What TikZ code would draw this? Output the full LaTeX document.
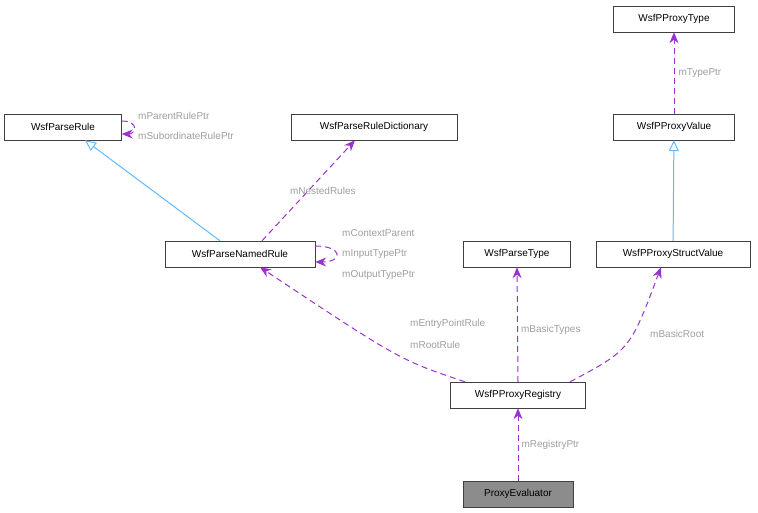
\documentclass[tikz,border=0pt]{standalone}
\usepackage{fontspec}
\setmainfont{Liberation Sans}
\usetikzlibrary{arrows.meta}
\definecolor{usecol}{HTML}{9A32CD}
\definecolor{inhcol}{HTML}{63B8FF}

\begin{document}
\begin{tikzpicture}[x=1pt, y=-1pt, font=\fontsize{10}{11}\selectfont,
    cls/.style={draw=black!75, fill=white, minimum height=26pt, inner xsep=4pt},
    use/.style={draw=usecol, dash pattern=on 6pt off 4pt, line width=1pt, -{Stealth[length=11pt,width=9pt,fill=usecol]}},
    inh/.style={draw=inhcol, line width=1pt, -{Triangle[open,length=11pt,width=10pt]}},
    lbl/.style={text=black!38, anchor=west, inner sep=1pt}]
    \useasboundingbox (0,0) rectangle (758,512);
    \node [cls, minimum width=121pt] (ptype) at (674,19) {WsfPProxyType};
    \node [cls, minimum width=121pt] (pvalue) at (674,127) {WsfPProxyValue};
    \node [cls, minimum width=117pt] (rule) at (63,127) {WsfParseRule};
    \node [cls, minimum width=166pt] (dict) at (374,127) {WsfParseRuleDictionary};
    \node [cls, minimum width=150pt] (named) at (240,254) {WsfParseNamedRule};
    \node [cls, minimum width=107pt] (ptyp) at (517,254) {WsfParseType};
    \node [cls, minimum width=154pt] (pstruct) at (673,254) {WsfPProxyStructValue};
    \node [cls, minimum width=135pt] (registry) at (518,395) {WsfPProxyRegistry};
    \node [cls, minimum width=110pt, fill=black!45] (evaluator) at (518,494) {ProxyEvaluator};
    % inheritance
	\draw [inh] ([xshift=-20pt]named.north) -- ([xshift=22pt]rule.south);
	\draw [inh] (pstruct) -- (pvalue);
    % members
	\draw [use] (pvalue) -- (ptype) node [lbl, pos=0.5, xshift=3pt] {mTypePtr};
	\draw [use] ([xshift=22pt]named.north) -- ([xshift=-19pt]dict.south) node [lbl, midway, xshift=-20pt] {mNestedRules};
	\draw [use] ([yshift=6pt]rule.east) .. controls +(18,0) and +(14,0) .. ([yshift=-7pt]rule.east);
	\node [lbl] at (137,116) {mParentRulePtr};
	\node [lbl] at (137,136) {mSubordinateRulePtr};
	\draw [use] ([yshift=8pt]named.east) .. controls +(28,0) and +(28,0) .. ([yshift=-8pt]named.east);
	\node [lbl] at (341,233) {mContextParent};
	\node [lbl] at (341,254) {mInputTypePtr};
	\node [lbl] at (341,275) {mOutputTypePtr};
	\draw [use] ([xshift=-53pt]registry.north) .. controls (400,360) .. ([xshift=20pt]named.south);
	\node [lbl] at (409,324) {mEntryPointRule};
	\node [lbl] at (409,345) {mRootRule};
	\draw [use] (registry.north) -- (ptyp.south) node [lbl, pos=0.45, xshift=2pt] {mBasicTypes};
	\draw [use] ([xshift=52pt]registry.north) .. controls (630,350) .. ([xshift=-12pt]pstruct.south);
	\node [lbl] at (649,334) {mBasicRoot};
	\draw [use] (evaluator) -- (registry) node [lbl, midway, xshift=2pt] {mRegistryPtr};
\end{tikzpicture}
\end{document}
